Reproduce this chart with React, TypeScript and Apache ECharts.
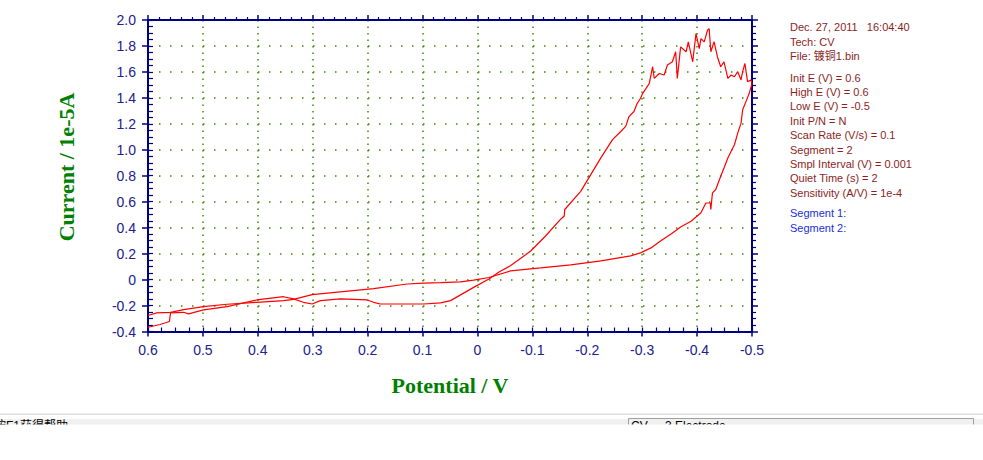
import React, { useEffect, useRef } from "react";
import * as echarts from "echarts";

// Segment 1: scan from 0.6 V to -0.5 V  [potential (V), current (1e-5 A)]
const segment1: [number, number][] = [
  [0.6, -0.367], [0.578, -0.346], [0.561, -0.323], [0.559, -0.257], [0.535, -0.252],
  [0.526, -0.264], [0.499, -0.234], [0.456, -0.208], [0.402, -0.157], [0.353, -0.132],
  [0.335, -0.149], [0.317, -0.175], [0.301, -0.188], [0.286, -0.162], [0.25, -0.149],
  [0.201, -0.157], [0.189, -0.175], [0.177, -0.188], [0.098, -0.188], [0.067, -0.18],
  [0.049, -0.162], [0.007, -0.06], [-0.021, 0.004], [-0.04, 0.06], [-0.06, 0.106],
  [-0.097, 0.22], [-0.124, 0.336], [-0.152, 0.467], [-0.158, 0.49], [-0.159, 0.54],
  [-0.188, 0.68], [-0.225, 0.94], [-0.246, 1.078], [-0.261, 1.141], [-0.27, 1.18],
  [-0.276, 1.256], [-0.285, 1.295], [-0.291, 1.358], [-0.297, 1.397], [-0.301, 1.435],
  [-0.307, 1.473], [-0.313, 1.512], [-0.319, 1.64], [-0.322, 1.55], [-0.331, 1.588],
  [-0.34, 1.576], [-0.346, 1.653], [-0.355, 1.678], [-0.361, 1.755], [-0.364, 1.55],
  [-0.37, 1.793], [-0.38, 1.755], [-0.384, 1.832], [-0.392, 1.678], [-0.398, 1.895],
  [-0.404, 1.78], [-0.407, 1.857], [-0.413, 1.832], [-0.419, 1.921], [-0.422, 1.934],
  [-0.425, 1.755], [-0.431, 1.832], [-0.437, 1.717], [-0.443, 1.64], [-0.449, 1.678],
  [-0.456, 1.55], [-0.462, 1.576], [-0.468, 1.563], [-0.474, 1.602], [-0.48, 1.538],
  [-0.483, 1.602], [-0.487, 1.665], [-0.492, 1.525], [-0.498, 1.538], [-0.5, 1.512],
];

// Segment 2: scan back from -0.5 V to 0.6 V
const segment2: [number, number][] = [
  [-0.5, 1.512], [-0.495, 1.435], [-0.489, 1.371], [-0.483, 1.308], [-0.48, 1.205],
  [-0.474, 1.128], [-0.468, 1.039], [-0.462, 0.988], [-0.456, 0.937], [-0.449, 0.86],
  [-0.443, 0.796], [-0.434, 0.694], [-0.428, 0.668], [-0.425, 0.54], [-0.424, 0.59],
  [-0.416, 0.59], [-0.407, 0.515], [-0.389, 0.45], [-0.37, 0.405], [-0.352, 0.35],
  [-0.334, 0.3], [-0.316, 0.244], [-0.297, 0.206], [-0.279, 0.183], [-0.225, 0.144],
  [-0.17, 0.114], [-0.115, 0.09], [-0.06, 0.067], [-0.021, 0.016], [0.007, -0.004],
  [0.031, -0.017], [0.067, -0.024], [0.098, -0.027], [0.128, -0.034], [0.189, -0.07],
  [0.25, -0.095], [0.301, -0.116], [0.335, -0.152], [0.353, -0.162], [0.402, -0.175],
  [0.456, -0.19], [0.499, -0.208], [0.535, -0.231], [0.559, -0.252], [0.584, -0.257],
  [0.6, -0.277],
];

const headerLines = ["Dec. 27, 2011   16:04:40", "Tech: CV", "File: 镀铜1.bin"];
const paramLines = [
  "Init E (V) = 0.6",
  "High E (V) = 0.6",
  "Low E (V) = -0.5",
  "Init P/N = N",
  "Scan Rate (V/s) = 0.1",
  "Segment = 2",
  "Smpl Interval (V) = 0.001",
  "Quiet Time (s) = 2",
  "Sensitivity (A/V) = 1e-4",
];
const segmentLines = ["Segment 1:", "Segment 2:"];

const X_MIN = -0.5;
const X_MAX = 0.6;
const Y_MIN = -0.4;
const Y_MAX = 2.0;

const NAVY = "#000080";
const LABEL = "#20208f";
const GRID_DOT = "#3f8a00";

const fmt = (v: number) => (Math.abs(v) < 1e-9 ? "0" : v.toFixed(1));

export default function App() {
  const ref = useRef<HTMLDivElement>(null);

  useEffect(() => {
    document.body.style.margin = "0";
    if (!ref.current) return;
    const chart = echarts.init(ref.current, undefined, { renderer: "svg" });

    const sansFont = "Arial, 'Liberation Sans', 'Noto Sans CJK SC', sans-serif";
    const serifFont = "'Times New Roman', 'Liberation Serif', 'DejaVu Serif', serif";
    const infoColor = "#8b1e1e";

    const graphics: any[] = [];
    const headerY = [27, 41.5, 55.5];
    headerLines.forEach((t, k) =>
      graphics.push({
        type: "text", x: 790, y: headerY[k],
        style: { text: t, fill: infoColor, font: `11px ${sansFont}`, textVerticalAlign: "middle", verticalAlign: "middle" },
      })
    );
    paramLines.forEach((t, k) =>
      graphics.push({
        type: "text", x: 790, y: 77.5 + k * 14.4,
        style: { text: t, fill: infoColor, font: `11px ${sansFont}`, verticalAlign: "middle" },
      })
    );
    segmentLines.forEach((t, k) =>
      graphics.push({
        type: "text", x: 790, y: 212.5 + k * 15.5,
        style: { text: t, fill: "#2030d8", font: `11px ${sansFont}`, verticalAlign: "middle" },
      })
    );
    graphics.push({
      type: "text", x: 450, y: 385,
      style: { text: "Potential / V", fill: "#008000", font: `bold 22px ${serifFont}`, align: "center", verticalAlign: "middle" },
    });
    graphics.push({
      type: "text", x: 66, y: 167, rotation: Math.PI / 2,
      style: { text: "Current / 1e-5A", fill: "#008000", font: `bold 22px ${serifFont}`, align: "center", verticalAlign: "middle" },
    });
    // window status bar remnants at the bottom
    graphics.push({ type: "rect", z: 100, shape: { x: 0, y: 413.5, width: 983, height: 1.5 }, style: { fill: "#dedede" } });
    graphics.push({ type: "rect", z: 100, shape: { x: 0, y: 419, width: 983, height: 6 }, style: { fill: "#f0f0f0" } });
    graphics.push({ type: "rect", z: 101, shape: { x: 628.5, y: 418.5, width: 345, height: 10 }, style: { fill: "#f0f0f0", stroke: "#a0a0a0", lineWidth: 1 } });
    graphics.push({ type: "text", z: 102, x: -6, y: 420, style: { text: "按F1获得帮助", fill: "#000", font: `12px ${sansFont}`, verticalAlign: "top" } });
    graphics.push({ type: "text", z: 102, x: 631, y: 420, style: { text: "CV  -  3 Electrode", fill: "#000", font: `12px ${sansFont}`, verticalAlign: "top" } });
    graphics.push({ type: "rect", z: 103, shape: { x: 0, y: 424.5, width: 983, height: 40 }, style: { fill: "#ffffff" } });

    const baseX = {
      type: "value" as const,
      min: X_MIN,
      max: X_MAX,
      inverse: true,
    };
    const baseY = {
      type: "value" as const,
      min: Y_MIN,
      max: Y_MAX,
    };

    chart.setOption({
      animation: false,
      backgroundColor: "#ffffff",
      grid: { left: 148, right: 231, top: 20, bottom: 128.5, containLabel: false },
      xAxis: [
        {
          ...baseX,
          position: "bottom",
          interval: 0.1,
          axisLine: { show: true, onZero: false, lineStyle: { color: NAVY, width: 2 } },
          axisTick: { show: true, inside: false, length: 5, lineStyle: { color: NAVY, width: 1.5 } },
          axisLabel: { show: true, margin: 11, color: LABEL, fontSize: 14, fontFamily: sansFont, formatter: fmt },
          splitLine: { show: true, lineStyle: { color: GRID_DOT, width: 1.5, type: [1.5, 5] } },
        },
        {
          ...baseX,
          position: "bottom",
          interval: 0.025,
          axisLine: { show: false, onZero: false },
          axisTick: { show: true, inside: true, length: 4, lineStyle: { color: NAVY, width: 1.2 } },
          axisLabel: { show: false },
          splitLine: { show: false },
        },
        {
          ...baseX,
          position: "top",
          interval: 0.1,
          axisLine: { show: true, onZero: false, lineStyle: { color: NAVY, width: 2 } },
          axisTick: { show: true, inside: false, length: 5, lineStyle: { color: NAVY, width: 1.5 } },
          minorTick: { show: true, splitNumber: 5, length: 3, lineStyle: { color: NAVY, width: 1.2 } },
          axisLabel: { show: false },
          splitLine: { show: false },
        },
      ],
      yAxis: [
        {
          ...baseY,
          position: "left",
          interval: 0.2,
          axisLine: { show: true, onZero: false, lineStyle: { color: NAVY, width: 2 } },
          axisTick: { show: true, inside: false, length: 6, lineStyle: { color: NAVY, width: 1.5 } },
          axisLabel: { show: true, margin: 12, color: LABEL, fontSize: 14, fontFamily: sansFont, formatter: fmt },
          splitLine: { show: true, lineStyle: { color: GRID_DOT, width: 1.5, type: [1.5, 9.5] } },
        },
        {
          ...baseY,
          position: "left",
          interval: 0.05,
          axisLine: { show: false, onZero: false },
          axisTick: { show: true, inside: true, length: 5, lineStyle: { color: NAVY, width: 1.2 } },
          axisLabel: { show: false },
          splitLine: { show: false },
        },
        {
          ...baseY,
          position: "right",
          interval: 0.2,
          axisLine: { show: true, onZero: false, lineStyle: { color: NAVY, width: 2 } },
          axisTick: { show: true, inside: false, length: 6, lineStyle: { color: NAVY, width: 1.5 } },
          minorTick: { show: true, splitNumber: 4, length: 4, lineStyle: { color: NAVY, width: 1.2 } },
          axisLabel: { show: false },
          splitLine: { show: false },
        },
      ],
      series: [
        {
          name: "Segment 1",
          type: "line",
          xAxisIndex: 0,
          yAxisIndex: 0,
          data: segment1,
          showSymbol: false,
          symbol: "none",
          clip: true,
          lineStyle: { color: "#ff0000", width: 1.2 },
          itemStyle: { color: "#ff0000" },
        },
        {
          name: "Segment 2",
          type: "line",
          xAxisIndex: 0,
          yAxisIndex: 0,
          data: segment2,
          showSymbol: false,
          symbol: "none",
          clip: true,
          lineStyle: { color: "#ff0000", width: 1.2 },
          itemStyle: { color: "#ff0000" },
        },
      ],
      graphic: graphics,
    });

    return () => chart.dispose();
  }, []);

  return <div ref={ref} style={{ width: 983, height: 460 }} />;
}
